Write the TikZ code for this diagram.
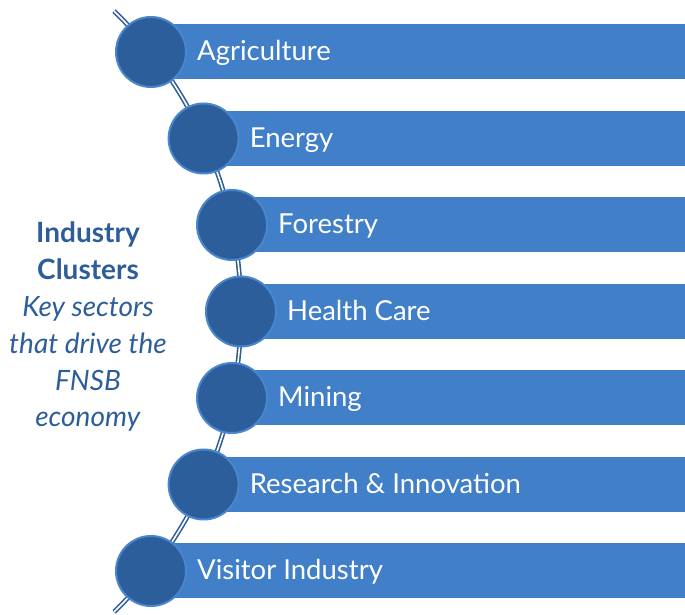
\documentclass[tikz,border=0pt]{standalone}
\usetikzlibrary{calc}
\usepackage{fontspec}
\setmainfont{Lato}
\definecolor{barblue}{RGB}{65,127,201}
\definecolor{circblue}{RGB}{44,94,155}
\definecolor{ringblue}{RGB}{74,134,205}
\definecolor{txtblue}{RGB}{46,94,153}
\definecolor{arcblue}{RGB}{46,94,153}
\begin{document}
\begin{tikzpicture}[x=1pt,y=1pt,
  bar/.style={fill=barblue,draw=none},
  dot/.style={circle,fill=circblue,draw=ringblue,line width=2pt,minimum size=70pt,inner sep=0pt},
  lbl/.style={anchor=base west,inner sep=0pt,text=white,font=\fontsize{27.5}{30}\selectfont},
  arcline/.style={draw=arcblue,line width=1.6pt,double=white,double distance=1.6pt}]
\useasboundingbox (0,0) rectangle (685,615);
% arc
\coordinate (arctop) at ($(-178,303.5)+(45.8:419)$);
\draw[arcline] (arctop) arc[start angle=45.8,end angle=-45.8,radius=419];
% rows
\foreach \i/\x/\y/\t in {1/151/563/Agriculture,2/203.6/476.5/Energy,3/232/390/Forestry,4/241/303.5/Health Care,5/232/217/Mining,6/203.6/130.5/Research \& Innovation,7/151/44/Visitor Industry}{
  \fill[bar] (\x,\y-27.5) rectangle (685,\y+27.5);
}
\foreach \i/\x/\y/\t in {1/151/563/Agriculture,2/203.6/476.5/Energy,3/232/390/Forestry,4/241/303.5/Health Care,5/232/217/Mining,6/203.6/130.5/Research \& Innovation,7/151/44/Visitor Industry}{
  \node[dot] (c\i) at (\x,\y) {};
  \node[lbl] (t\i) at (\x+46,\y-9) {\t};
}
\node[align=center,text=txtblue,font=\fontsize{28}{36.8}\selectfont,inner sep=0pt] (side) at (88,288)
  {\textbf{Industry}\\\textbf{Clusters}\\\textit{Key sectors}\\\textit{that drive the}\\\textit{FNSB}\\\textit{economy}};
\end{tikzpicture}
\end{document}
